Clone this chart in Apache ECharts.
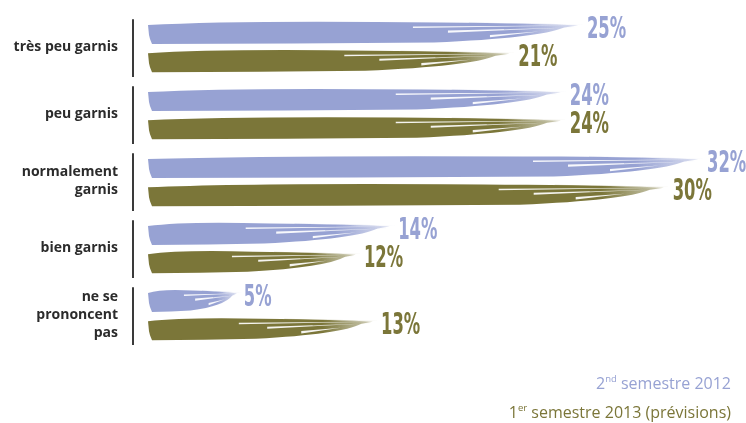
<!DOCTYPE html>
<html>
<head>
<meta charset="utf-8">
<script src="https://cdn.jsdelivr.net/npm/echarts@6/dist/echarts.min.js"></script>
<style>
  html, body { margin: 0; padding: 0; background: #fff; }
  #chart { width: 746px; height: 423px; }
</style>
</head>
<body>
<div id="chart"></div>
<script>
// Stocks en magasin : répartition des réponses (%)
const categories = ['très peu garnis', 'peu garnis', 'normalement\ngarnis', 'bien garnis', 'ne se\nprononcent\npas'];
const s2012 = [25, 24, 32, 14, 5];   // 2nd semestre 2012
const s2013 = [21, 24, 30, 12, 13];  // 1er semestre 2013 (prévisions)

const BLUE = '#97a2d3';
const OLIVE = '#7b7639';
const NUM_FONT = "bold 26px 'Liberation Sans Narrow', 'DejaVu Sans Condensed', 'Roboto Condensed', sans-serif";
const TEXT_FONT = '"Open Sans", "Noto Sans", sans-serif';

function rgba(hex, a) {
  const n = parseInt(hex.slice(1), 16);
  return 'rgba(' + (n >> 16 & 255) + ',' + (n >> 8 & 255) + ',' + (n & 255) + ',' + a + ')';
}

// Brush-stroke bar: thick body with a slanted left end and a streaked, tapering tail
function brushShapes(x0, x1, yc, color, k) {
  const L = Math.max(x1 - x0, 10);
  const T = Math.min(0.5 * L, 140);
  const xs = x1 - T;
  const j = (k % 3) - 1;
  const body = [
    'M', x0, yc - 8,
    'Q', x0 + 0.3 * (xs - x0), yc - 12.5 + j * 0.5, xs, yc - 10.5,
    'Q', x1 - 0.3 * T, yc - 9.5, x1 - 0.02 * T, yc - 7.5,
    'L', x1 - 0.12 * T, yc - 5.5,
    'Q', x1 - 0.3 * T, yc + 5, xs - 0.05 * T, yc + 9.5,
    'Q', x0 + 0.5 * (xs - x0), yc + 10.5, x0 + 4, yc + 11,
    'L', x0 + 2, yc + 6,
    'L', x0 + 1, yc + 2,
    'Z'
  ].join(' ');
  const fade = Math.max(0, 1 - (0.45 * T) / L);
  const fill = new echarts.graphic.LinearGradient(0, 0, 1, 0, [
    { offset: 0, color: color },
    { offset: fade, color: color },
    { offset: 1, color: rgba(color, 0.35) }
  ]);
  const out = [{ type: 'path', shape: { pathData: body }, style: { fill: fill } }];
  // white slits splitting the tail into bristle strands
  const slits = [
    [xs - 0.2 * T, yc - 5.8, x1 - 0.05 * T, yc - 7.6, 1.4],
    [xs + 0.05 * T, yc - 1.5, x1 - 0.14 * T, yc - 5.4, 2.2],
    [xs + 0.35 * T, yc + 3, x1 - 0.3 * T, yc - 1.5, 2.4]
  ];
  slits.forEach(s => {
    out.push({
      type: 'polygon',
      shape: { points: [[s[0], s[1] - s[4] / 2], [s[2], s[3]], [s[0], s[1] + s[4] / 2]] },
      style: { fill: '#fff', opacity: 0.92 }
    });
  });
  // faint loose bristles running past the strands
  out.push({
    type: 'polygon',
    shape: { points: [[xs + 0.2 * T, yc - 10.6], [x1 + 5, yc - 8.6], [xs + 0.2 * T, yc - 9.6]] },
    style: { fill: color, opacity: 0.35 }
  });
  out.push({
    type: 'polygon',
    shape: { points: [[xs + 0.45 * T, yc - 4.2], [x1 - 0.04 * T, yc - 6.2], [xs + 0.45 * T, yc - 3.4]] },
    style: { fill: color, opacity: 0.45 }
  });
  return out;
}

function brushSeries(name, values, color, offset) {
  return {
    name: name,
    type: 'custom',
    data: values.map((v, i) => [v, i]),
    encode: { x: 0, y: 1 },
    clip: false,
    renderItem: function (params, api) {
      const v = api.value(0);
      const c = api.value(1);
      const p = api.coord([v, c]);
      const p0 = api.coord([0, c]);
      const band = api.size([0, 1])[1];
      const yc = p[1] + offset * band;
      const x0 = p0[0] - 4;
      const x1 = p[0];
      const children = brushShapes(x0, x1, yc, color, params.dataIndex + (offset > 0 ? 1 : 0));
      children.push({
        type: 'text',
        x: x1 + 6,
        y: yc - 3,
        scaleX: 0.7,
        scaleY: 1.18,
        style: {
          text: v + '%',
          font: NUM_FONT,
          fill: color,
          align: 'left',
          verticalAlign: 'middle'
        }
      });
      return { type: 'group', children: children };
    }
  };
}

const chart = echarts.init(document.getElementById('chart'));
chart.setOption({
  animation: false,
  grid: { left: 152, right: 45, top: 14, bottom: 74 },
  xAxis: { type: 'value', min: 0, max: 32, show: false },
  yAxis: {
    type: 'category',
    data: categories,
    inverse: true,
    axisLine: { show: false },
    axisTick: { show: false },
    axisLabel: {
      margin: 34,
      align: 'right',
      color: '#2b2b2b',
      fontFamily: TEXT_FONT,
      fontWeight: 'bold',
      fontSize: 14,
      lineHeight: 18
    }
  },
  series: [
    // vertical rule beside each category label
    {
      type: 'custom',
      data: categories.map((c, i) => [0, i]),
      encode: { x: 0, y: 1 },
      clip: false,
      silent: true,
      renderItem: function (params, api) {
        const p = api.coord([0, api.value(1)]);
        const band = api.size([0, 1])[1];
        const x = p[0] - 19;
        return {
          type: 'line',
          shape: { x1: x, y1: p[1] - 0.42 * band, x2: x, y2: p[1] + 0.44 * band },
          style: { stroke: '#3a3a3a', lineWidth: 2 }
        };
      }
    },
    brushSeries('2nd semestre 2012', s2012, BLUE, -0.215),
    brushSeries('1er semestre 2013 (prévisions)', s2013, OLIVE, 0.205)
  ],
  graphic: [
    {
      type: 'text',
      right: 15,
      top: 371,
      style: {
        text: '{b|2}{s|nd}{b| semestre 2012}',
        rich: {
          b: { fontSize: 16, fontFamily: TEXT_FONT, fill: BLUE, verticalAlign: 'bottom', lineHeight: 21 },
          s: { fontSize: 9.5, fontFamily: TEXT_FONT, fill: BLUE, verticalAlign: 'top', lineHeight: 21, padding: [3, 0, 0, 0] }
        }
      }
    },
    {
      type: 'text',
      right: 15,
      top: 400,
      style: {
        text: '{b|1}{s|er}{b| semestre 2013 (prévisions)}',
        rich: {
          b: { fontSize: 16, fontFamily: TEXT_FONT, fill: OLIVE, verticalAlign: 'bottom', lineHeight: 21 },
          s: { fontSize: 9.5, fontFamily: TEXT_FONT, fill: OLIVE, verticalAlign: 'top', lineHeight: 21, padding: [3, 0, 0, 0] }
        }
      }
    }
  ]
});
</script>
</body>
</html>
